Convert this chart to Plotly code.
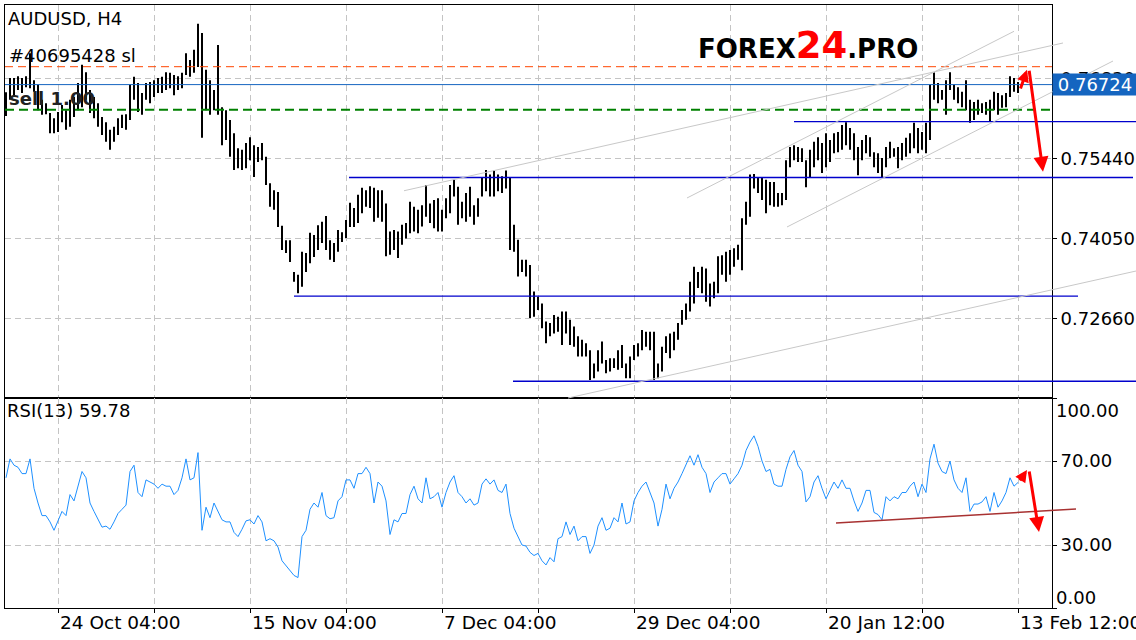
import plotly.graph_objects as go

W, H = 1136, 640
FONT = "DejaVu Sans"

# ---- data (H4 bars aggregated in pairs; prices x 10000) ----
HIGH = [
    7659, 7684, 7684, 7687, 7684, 7687, 7727, 7680, 7672, 7646,
    7640, 7623, 7614, 7625, 7637, 7628, 7646, 7651, 7675, 7707,
    7694, 7663, 7651, 7640, 7616, 7607, 7594, 7599, 7614, 7620,
    7621, 7672, 7686, 7675, 7658, 7675, 7677, 7680, 7684, 7686,
    7694, 7693, 7689, 7687, 7693, 7727, 7715, 7733, 7778, 7762,
    7698, 7680, 7663, 7741, 7633, 7628, 7611, 7588, 7562, 7559,
    7571, 7581, 7567, 7564, 7571, 7547, 7501, 7489, 7486, 7427,
    7402, 7402, 7347, 7342, 7382, 7380, 7415, 7411, 7428, 7434,
    7444, 7402, 7397, 7420, 7416, 7437, 7467, 7458, 7481, 7493,
    7489, 7496, 7493, 7489, 7489, 7466, 7417, 7420, 7417, 7429,
    7432, 7469, 7460, 7455, 7463, 7498, 7466, 7472, 7475, 7455,
    7475, 7498, 7507, 7495, 7469, 7484, 7495, 7463, 7475, 7510,
    7524, 7516, 7523, 7516, 7513, 7523, 7510, 7429, 7403, 7368,
    7368, 7359, 7313, 7304, 7292, 7261, 7258, 7272, 7269, 7278,
    7278, 7264, 7252, 7235, 7229, 7223, 7211, 7188, 7211, 7226,
    7194, 7197, 7197, 7211, 7220, 7188, 7200, 7220, 7223, 7246,
    7243, 7243, 7243, 7188, 7217, 7235, 7240, 7243, 7258, 7281,
    7292, 7330, 7356, 7347, 7356, 7353, 7327, 7330, 7374, 7376,
    7382, 7385, 7388, 7394, 7440, 7469, 7516, 7517, 7510, 7510,
    7507, 7503, 7503, 7484, 7484, 7541, 7564, 7567, 7564, 7562,
    7541, 7559, 7573, 7581, 7571, 7588, 7576, 7588, 7590, 7602,
    7607, 7597, 7588, 7564, 7576, 7585, 7581, 7555, 7553, 7545,
    7564, 7573, 7562, 7564, 7571, 7580, 7588, 7606, 7597, 7590,
    7606, 7672, 7694, 7675, 7663, 7680, 7694, 7672, 7668, 7660,
    7680, 7646, 7642, 7646, 7640, 7642, 7646, 7660, 7658, 7654,
    7658, 7687, 7684, 7677,
]
LOW = [
    7618, 7646, 7651, 7663, 7658, 7668, 7666, 7660, 7628, 7620,
    7621, 7588, 7588, 7590, 7607, 7594, 7599, 7616, 7628, 7633,
    7646, 7623, 7614, 7599, 7585, 7573, 7559, 7573, 7585, 7597,
    7594, 7611, 7646, 7625, 7620, 7646, 7640, 7651, 7658, 7658,
    7663, 7666, 7654, 7663, 7666, 7689, 7686, 7693, 7703, 7580,
    7628, 7620, 7628, 7620, 7567, 7576, 7547, 7524, 7527, 7524,
    7527, 7541, 7512, 7538, 7541, 7498, 7460, 7455, 7425, 7385,
    7380, 7364, 7330, 7310, 7321, 7347, 7362, 7373, 7385, 7397,
    7385, 7368, 7364, 7382, 7399, 7406, 7425, 7425, 7432, 7449,
    7460, 7458, 7434, 7441, 7434, 7374, 7377, 7385, 7371, 7394,
    7405, 7414, 7417, 7414, 7426, 7443, 7432, 7423, 7417, 7417,
    7440, 7449, 7478, 7429, 7440, 7434, 7443, 7429, 7443, 7478,
    7487, 7478, 7478, 7487, 7484, 7492, 7385, 7382, 7339, 7347,
    7339, 7267, 7269, 7281, 7249, 7223, 7235, 7240, 7243, 7220,
    7240, 7220, 7217, 7200, 7200, 7200, 7159, 7162, 7174, 7188,
    7171, 7174, 7180, 7177, 7180, 7162, 7162, 7194, 7200, 7211,
    7217, 7211, 7159, 7162, 7174, 7206, 7197, 7211, 7229, 7255,
    7264, 7278, 7292, 7319, 7310, 7295, 7287, 7301, 7310, 7342,
    7330, 7342, 7356, 7368, 7350, 7429, 7443, 7492, 7484, 7472,
    7449, 7463, 7460, 7460, 7463, 7472, 7529, 7541, 7538, 7538,
    7494, 7512, 7529, 7541, 7519, 7529, 7538, 7553, 7555, 7559,
    7567, 7559, 7541, 7515, 7541, 7553, 7547, 7529, 7519, 7512,
    7529, 7545, 7547, 7527, 7541, 7547, 7553, 7562, 7553, 7559,
    7553, 7576, 7646, 7640, 7646, 7620, 7663, 7646, 7640, 7633,
    7628, 7606, 7611, 7620, 7623, 7620, 7609, 7628, 7620, 7632,
    7633, 7651, 7660, 7658,
]
RSI = [
    62, 71, 68, 67, 64, 64, 71, 57, 50, 44,
    44, 41, 37, 42, 46, 44, 54, 51, 58, 65,
    62, 50, 46, 42, 38.5, 39, 37.5, 41, 45, 47,
    49, 65, 68, 55, 53, 61, 60, 59, 57, 59,
    58, 58, 54, 56, 62, 71, 61, 62, 74, 37,
    48, 43, 50, 46, 42, 41, 41, 36, 34, 37.5,
    41.5, 42, 40, 44, 41, 32, 33, 32, 29, 22.5,
    20, 18, 15.5, 14.5, 34, 37, 47, 50, 48, 55,
    44, 42.5, 43, 51, 53, 61, 61, 57, 64, 64,
    67, 64, 50, 60, 58, 51, 35, 42, 41, 45,
    45, 54, 58, 52, 50, 62, 52, 53, 55, 48,
    55, 60, 63, 55, 53, 50, 52, 49, 50, 59,
    61.5, 59, 61, 56, 55, 59, 45, 38, 34, 30,
    29.5, 26.5, 25, 26, 22.5, 20.5, 24, 22, 33, 34,
    41, 35, 39, 32, 34, 34, 26, 30, 39, 43,
    37, 38, 43, 41, 50, 40, 41, 51, 55, 58,
    60, 55, 50, 39, 47, 59, 52, 57, 60, 64,
    68.5, 72.5, 68, 73, 67, 64, 55, 60, 62, 64,
    64, 59, 61.5, 64, 68, 75, 79, 82, 77, 70,
    65, 66, 59, 58, 58, 66, 72, 75, 68, 65,
    50.5, 53, 60, 63, 57, 52, 56, 60, 57, 61,
    57, 57, 51, 46, 50, 56, 56, 45.5, 44.5, 42,
    53, 51, 53, 52, 55, 55, 58, 60, 53, 59,
    55, 71, 78, 69, 65, 64, 70, 61, 57, 55,
    62, 46, 49.5, 49.5, 50.5, 53, 46, 55, 48, 51,
    55, 62, 58, 59.78,
]
TICK_IDX = [13, 61, 109, 157, 205, 253]
TICK_TEXT = ["24 Oct 04:00", "15 Nov 04:00", "7 Dec 04:00",
             "29 Dec 04:00", "20 Jan 12:00", "13 Feb 12:00"]
GRID_IDX = [13, 37, 61, 85, 109, 133, 157, 181, 205, 229, 253]
PRICE_TICKS = [0.72660, 0.74050, 0.75440, 0.76830]
RSI_TICKS = [0, 30, 70, 100]
LAST_PRICE = 0.76724
SL_PRICE = 0.77035
ENTRY_PRICE = 0.76288
RSI_LAST = 59.78
# horizontal support/resistance levels: (price, start index, end index)
LEVELS = [(0.7608, 197, 282.5), (0.7511, 85.75, 281.75),
          (0.7305, 72, 268), (0.7157, 126.75, 282.5)]
# gray trend lines: (idx0, price0, idx1, price1)
TRENDS = [(99.5, 0.7488, 264.25, 0.77447), (170.25, 0.74754, 252, 0.7765),
          (195.25, 0.7425, 276.75, 0.77134), (140.5, 0.71279, 282.5, 0.73485)]
RSI_TREND = (207.5, 40.5, 267.5, 47.1)

# ---- geometry ----
X0, X1 = 5, 1052
PY0, PY1 = 5, 398
RY0, RY1 = 398, 608
XR = [-0.25, 261.5]
PR = [0.71279, 0.78107]
RR = [0, 100]


def fx(i):
    return (X0 + (i - XR[0]) / (XR[1] - XR[0]) * (X1 - X0)) / W


def fp(p):
    return 1 - (PY1 - (p - PR[0]) / (PR[1] - PR[0]) * (PY1 - PY0)) / H


def fr(r):
    return 1 - (RY1 - (r - RR[0]) / (RR[1] - RR[0]) * (RY1 - RY0)) / H


def px(x):
    return x / W


def py(y):
    return 1 - y / H


fig = go.Figure()

bx, by = [], []
for i, (h, l) in enumerate(zip(HIGH, LOW)):
    bx += [i, i, None]
    by += [h / 10000, l / 10000, None]
fig.add_trace(go.Scatter(x=bx, y=by, mode="lines", xaxis="x", yaxis="y",
                         line=dict(color="black", width=2), hoverinfo="skip",
                         showlegend=False))
fig.add_trace(go.Scatter(x=list(range(len(RSI))), y=RSI, mode="lines",
                         xaxis="x2", yaxis="y2",
                         line=dict(color="#1E90FF", width=1), hoverinfo="skip",
                         showlegend=False))

grid = dict(showgrid=True, gridcolor="#C4C4C4", griddash="6px,4px", gridwidth=1,
            zeroline=False, showline=True, mirror=True, linecolor="black",
            linewidth=1)
tfont = dict(family=FONT, size=18, color="black")

fig.update_layout(
    width=W, height=H, margin=dict(l=0, r=0, t=0, b=0),
    paper_bgcolor="white", plot_bgcolor="white", showlegend=False,
    xaxis=dict(domain=[px(X0), px(X1)], range=XR, anchor="y",
               tickmode="array", tickvals=GRID_IDX, showticklabels=False,
               ticks="", **grid),
    yaxis=dict(domain=[py(PY1), py(PY0)], range=PR, anchor="x", side="right",
               tickmode="array", tickvals=PRICE_TICKS,
               ticktext=["%.5f" % v for v in PRICE_TICKS],
               ticks="outside", ticklen=4, tickcolor="black", tickfont=tfont,
               **grid),
    xaxis2=dict(domain=[px(X0), px(X1)], range=XR, anchor="y2",
                tickmode="array", tickvals=GRID_IDX, showticklabels=False,
                ticks="outside", ticklen=4, tickcolor="black", **grid),
    yaxis2=dict(domain=[py(RY1), py(RY0)], range=RR, anchor="x2", side="right",
                tickmode="array", tickvals=RSI_TICKS,
                ticktext=["", "30.00", "70.00", ""],
                ticks="outside", ticklen=4, tickcolor="black", tickfont=tfont,
                **grid),
)

shapes = []
# full-width order lines
shapes.append(dict(type="line", xref="paper", yref="paper", x0=px(X0), x1=px(X1),
                   y0=fp(SL_PRICE), y1=fp(SL_PRICE),
                   line=dict(color="#FF4500", width=1, dash="8px,5px")))
shapes.append(dict(type="line", xref="paper", yref="paper", x0=px(X0), x1=px(X1),
                   y0=fp(LAST_PRICE), y1=fp(LAST_PRICE),
                   line=dict(color="#1565C0", width=1)))
shapes.append(dict(type="line", xref="paper", yref="paper", x0=px(X0), x1=px(X1),
                   y0=fp(ENTRY_PRICE), y1=fp(ENTRY_PRICE),
                   line=dict(color="#008000", width=2, dash="9px,5px")))
for p, i0, i1 in LEVELS:
    shapes.append(dict(type="line", xref="paper", yref="paper", x0=fx(i0),
                       x1=fx(i1), y0=fp(p), y1=fp(p),
                       line=dict(color="#0000CC", width=1.3)))
for i0, p0, i1, p1 in TRENDS:
    shapes.append(dict(type="line", xref="paper", yref="paper", x0=fx(i0),
                       x1=fx(i1), y0=fp(p0), y1=fp(p1),
                       line=dict(color="#C8C8C8", width=1)))
i0, r0, i1, r1 = RSI_TREND
shapes.append(dict(type="line", xref="paper", yref="paper", x0=fx(i0), x1=fx(i1),
                   y0=fr(r0), y1=fr(r1), line=dict(color="#A83232", width=1.5)))
fig.update_layout(shapes=shapes)

ann = []


def label(text, x, y, size=18, color="black", anchor="left", **kw):
    ann.append(dict(text=text, xref="paper", yref="paper", x=px(x), y=py(y),
                    xanchor=anchor, yanchor="middle", showarrow=False,
                    font=dict(family=FONT, size=size, color=color), **kw))


label("AUDUSD, H4", 6, 19)
label("#40695428 sl", 7, 55)
label("<b>sell 1.00</b>", 7, 99, color="#222222")
label("RSI(13) %.2f" % RSI_LAST, 5, 410)
label("100.00", 1054, 410)
label("0.00", 1054, 597)

for idx, t in zip(TICK_IDX, TICK_TEXT):
    ann.append(dict(text=t, xref="x2", yref="paper", x=idx, y=py(622),
                    xanchor="left", yanchor="middle", showarrow=False,
                    font=dict(family=FONT, size=18.5, color="black")))

# current price box
ann.append(dict(text="%.5f" % LAST_PRICE, xref="paper", yref="paper",
                x=px(X1), y=fp(LAST_PRICE), xanchor="left", yanchor="middle",
                showarrow=False, bgcolor="#1565C0", borderpad=0, width=84,
                height=21, font=dict(family=FONT, size=18, color="white")))

# logo
ann.append(dict(text="<b>FOREX<span style='color:#FF0000;font-size:37px'>24</span>.PRO</b>",
                xref="paper", yref="paper", x=px(696), y=py(45),
                xanchor="left", yanchor="middle", showarrow=False,
                font=dict(family=FONT, size=26, color="black")))


def arrow(xr, yr, head, tail, size):
    ann.append(dict(text="", xref=xr, yref=yr, axref=xr, ayref=yr,
                    x=head[0], y=head[1], ax=tail[0], ay=tail[1],
                    showarrow=True, arrowhead=2, arrowsize=size, arrowwidth=3,
                    arrowcolor="#FF0000", standoff=0, startstandoff=0))


arrow("x", "y", (255.25, 0.7698), (253.5, 0.7663), 0.8)
arrow("x", "y", (259.25, 0.7521), (255.75, 0.7699), 1.0)
arrow("x2", "y2", (255.25, 65.7), (253.25, 60), 0.8)
arrow("x2", "y2", (258.25, 36.2), (255.75, 65.7), 1.0)

fig.update_layout(annotations=ann)
fig.write_html("out.html", config={"displayModeBar": False},
               post_script="document.body.style.margin='0px';"
                           "document.body.style.overflow='hidden';")
